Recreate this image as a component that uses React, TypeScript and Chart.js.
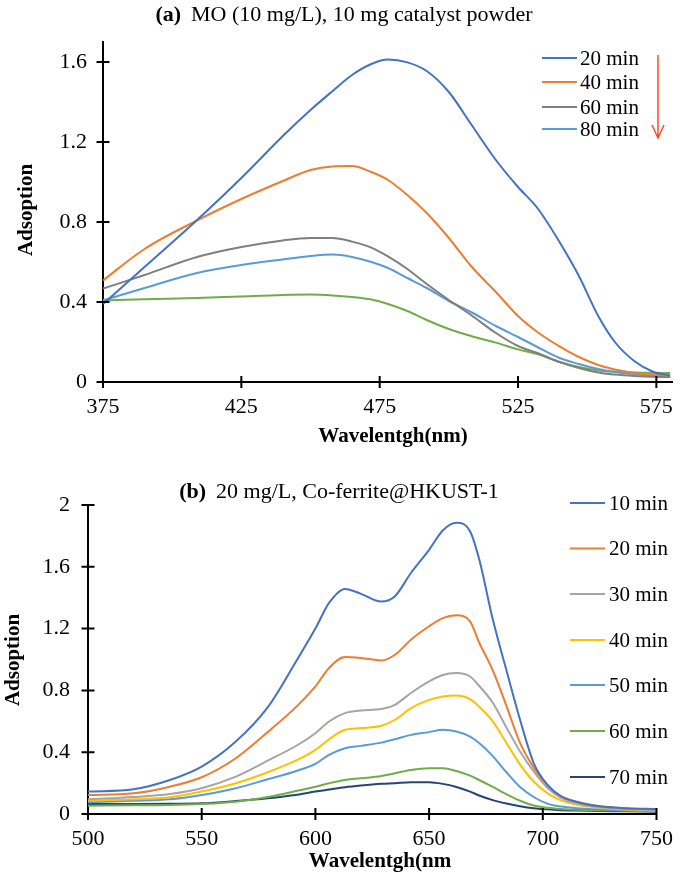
import React, { useEffect, useRef } from "react";
import { Chart, registerables } from "chart.js";

Chart.register(...registerables);

const FONT = '"Liberation Serif", "Times New Roman", serif';

// ---------- Panel (a) data ----------
const wavelengthsA = [375, 390, 409, 425, 440, 450, 458, 465, 472, 478, 485, 492, 500, 508, 517, 525, 532, 540, 547, 554, 560, 567, 574, 580];
const a20min = [0.39, 0.575, 0.81, 1.02, 1.23, 1.36, 1.455, 1.535, 1.59, 1.612, 1.598, 1.555, 1.45, 1.29, 1.11, 0.975, 0.87, 0.7, 0.53, 0.33, 0.2, 0.105, 0.05, 0.032];
const a40min = [0.508, 0.665, 0.808, 0.915, 1.005, 1.06, 1.078, 1.08, 1.05, 1.01, 0.935, 0.845, 0.72, 0.58, 0.45, 0.33, 0.25, 0.178, 0.125, 0.085, 0.062, 0.045, 0.036, 0.032];
const a60min = [0.467, 0.535, 0.625, 0.675, 0.708, 0.72, 0.72, 0.702, 0.672, 0.628, 0.565, 0.49, 0.41, 0.335, 0.245, 0.18, 0.145, 0.1, 0.07, 0.047, 0.037, 0.03, 0.026, 0.025];
const a80min = [0.408, 0.47, 0.545, 0.585, 0.613, 0.63, 0.637, 0.625, 0.6, 0.57, 0.52, 0.47, 0.405, 0.35, 0.28, 0.225, 0.175, 0.12, 0.09, 0.065, 0.05, 0.04, 0.03, 0.025];
const aExtra = [0.408, 0.414, 0.42, 0.428, 0.435, 0.437, 0.433, 0.425, 0.412, 0.39, 0.355, 0.31, 0.265, 0.23, 0.197, 0.163, 0.14, 0.1, 0.075, 0.058, 0.052, 0.048, 0.046, 0.045];
const seriesA = [a20min, a40min, a60min, a80min, aExtra];
const labelsA = ["20 min", "40 min", "60 min", "80 min", ""];
const colorsA = ["#4472C4", "#ED7D31", "#7F7F7F", "#5B9BD5", "#70AD47"];
const xTicksA = [375, 425, 475, 525, 575];
const yTicksA = [0, 0.4, 0.8, 1.2, 1.6];

// ---------- Panel (b) data ----------
const wavelengthsB = [500, 520, 536, 550, 565, 579, 592, 600, 606, 613, 620, 629, 635, 642, 650, 656, 662, 668, 672, 678, 684, 690, 696, 702, 708, 715, 725, 737, 750];
const b10min = [0.145, 0.16, 0.22, 0.307, 0.469, 0.69, 1.0, 1.2, 1.366, 1.457, 1.425, 1.375, 1.41, 1.56, 1.71, 1.835, 1.885, 1.83, 1.65, 1.26, 0.93, 0.61, 0.33, 0.19, 0.115, 0.078, 0.05, 0.038, 0.032];
const b20min = [0.123, 0.134, 0.177, 0.238, 0.361, 0.53, 0.7, 0.826, 0.945, 1.016, 1.01, 0.994, 1.031, 1.128, 1.215, 1.268, 1.286, 1.247, 1.11, 0.93, 0.7, 0.46, 0.3, 0.185, 0.115, 0.08, 0.05, 0.036, 0.03];
const b30min = [0.095, 0.11, 0.13, 0.167, 0.242, 0.345, 0.445, 0.523, 0.599, 0.653, 0.67, 0.679, 0.707, 0.783, 0.858, 0.9, 0.912, 0.89, 0.83, 0.72, 0.56, 0.405, 0.275, 0.17, 0.105, 0.07, 0.045, 0.032, 0.026];
const b40min = [0.086, 0.095, 0.108, 0.145, 0.199, 0.27, 0.35, 0.415, 0.484, 0.545, 0.556, 0.571, 0.61, 0.685, 0.739, 0.761, 0.767, 0.744, 0.695, 0.6, 0.46, 0.32, 0.21, 0.135, 0.088, 0.06, 0.04, 0.028, 0.022];
const b50min = [0.076, 0.085, 0.095, 0.123, 0.167, 0.225, 0.28, 0.325, 0.383, 0.426, 0.441, 0.462, 0.484, 0.512, 0.53, 0.545, 0.534, 0.501, 0.46, 0.375, 0.27, 0.175, 0.11, 0.067, 0.048, 0.038, 0.03, 0.024, 0.02];
const b60min = [0.054, 0.056, 0.058, 0.065, 0.08, 0.11, 0.15, 0.177, 0.199, 0.22, 0.231, 0.246, 0.264, 0.285, 0.296, 0.296, 0.278, 0.248, 0.22, 0.175, 0.128, 0.086, 0.055, 0.04, 0.032, 0.027, 0.024, 0.022, 0.02];
const b70min = [0.065, 0.065, 0.066, 0.069, 0.084, 0.102, 0.125, 0.145, 0.158, 0.173, 0.184, 0.195, 0.199, 0.205, 0.205, 0.195, 0.175, 0.145, 0.12, 0.09, 0.068, 0.05, 0.037, 0.03, 0.025, 0.022, 0.02, 0.017, 0.015];
const seriesB = [b10min, b20min, b30min, b40min, b50min, b60min, b70min];
const labelsB = ["10 min", "20 min", "30 min", "40 min", "50 min", "60 min", "70 min"];
const colorsB = ["#4472C4", "#ED7D31", "#A5A5A5", "#FFC000", "#5B9BD5", "#70AD47", "#264478"];
const xTicksB = [500, 550, 600, 650, 700, 750];
const yTicksB = [0, 0.4, 0.8, 1.2, 1.6, 2];

type Decor = {
  titleBold: string;
  titleText: string;
  titleCx: number;
  titleCy: number;
  xTitle: string;
  xTitleCx: number;
  xTitleCy: number;
  yTitle: string;
  yTitleCx: number;
  yTitleCy: number;
  legX1: number;
  legX2: number;
  legTx: number;
  legRows: number[];
  arrow?: { x: number; y1: number; y2: number; color: string };
};

function makeDecor(d: Decor) {
  return {
    id: "decor",
    afterDraw(chart: any) {
      const ctx = chart.ctx as CanvasRenderingContext2D;
      const { left, bottom } = chart.chartArea;
      const xs = chart.scales.x;
      const ys = chart.scales.y;
      ctx.save();
      // crossing tick marks
      ctx.strokeStyle = "#000";
      ctx.lineWidth = 2;
      ctx.beginPath();
      xs.ticks.forEach((t: any) => {
        const px = xs.getPixelForValue(t.value);
        ctx.moveTo(px, bottom - 6);
        ctx.lineTo(px, bottom + 6);
      });
      ys.ticks.forEach((t: any) => {
        const py = ys.getPixelForValue(t.value);
        ctx.moveTo(left - 6.5, py);
        ctx.lineTo(left + 6.5, py);
      });
      ctx.stroke();

      // title
      ctx.fillStyle = "#000";
      ctx.textBaseline = "middle";
      ctx.textAlign = "left";
      ctx.font = `bold 22px ${FONT}`;
      const wb = ctx.measureText(d.titleBold).width;
      ctx.font = `22px ${FONT}`;
      const gap = 10;
      const wt = ctx.measureText(d.titleText).width;
      const startX = d.titleCx - (wb + gap + wt) / 2;
      ctx.font = `bold 22px ${FONT}`;
      ctx.fillText(d.titleBold, startX, d.titleCy);
      ctx.font = `22px ${FONT}`;
      ctx.fillText(d.titleText, startX + wb + gap, d.titleCy);

      // axis titles
      ctx.font = `bold 21px ${FONT}`;
      ctx.textAlign = "center";
      ctx.fillText(d.xTitle, d.xTitleCx, d.xTitleCy);
      ctx.save();
      ctx.translate(d.yTitleCx, d.yTitleCy);
      ctx.rotate(-Math.PI / 2);
      ctx.fillText(d.yTitle, 0, 0);
      ctx.restore();

      // legend
      ctx.font = `21px ${FONT}`;
      ctx.textAlign = "left";
      let row = 0;
      chart.data.datasets.forEach((ds: any) => {
        if (!ds.label) return;
        const y = d.legRows[row++];
        ctx.strokeStyle = ds.borderColor;
        ctx.lineWidth = 2;
        ctx.beginPath();
        ctx.moveTo(d.legX1, y);
        ctx.lineTo(d.legX2, y);
        ctx.stroke();
        ctx.fillStyle = "#000";
        ctx.fillText(ds.label, d.legTx, y + 1);
      });

      if (d.arrow) {
        const a = d.arrow;
        ctx.strokeStyle = a.color;
        ctx.lineWidth = 1.5;
        ctx.beginPath();
        ctx.moveTo(a.x, a.y1);
        ctx.lineTo(a.x, a.y2);
        ctx.moveTo(a.x - 6, a.y2 - 13);
        ctx.lineTo(a.x, a.y2);
        ctx.lineTo(a.x + 6, a.y2 - 13);
        ctx.stroke();
      }
      ctx.restore();
    },
  };
}

type PanelProps = {
  width: number;
  height: number;
  wavelengths: number[];
  series: number[][];
  labels: string[];
  colors: string[];
  xMin: number;
  xMax: number;
  yMax: number;
  xTicks: number[];
  yTicks: number[];
  padTop: number;
  padRight: number;
  yWidth: number;
  xHeight: number;
  yPad: number;
  decor: Decor;
};

function Panel(p: PanelProps) {
  const ref = useRef<HTMLCanvasElement | null>(null);
  useEffect(() => {
    if (!ref.current) return;
    const datasets = p.series.map((s, i) => ({
      label: p.labels[i],
      data: p.wavelengths.map((w, j) => ({ x: w, y: s[j] })),
      borderColor: p.colors[i],
      backgroundColor: p.colors[i],
      borderWidth: 2,
      pointRadius: 0,
      cubicInterpolationMode: "monotone" as const,
      fill: false,
    }));
    const tickFont = { family: FONT, size: 22 };
    const chart = new Chart(ref.current, {
      type: "line",
      data: { datasets },
      options: {
        animation: false,
        responsive: false,
        layout: { padding: { top: p.padTop, right: p.padRight, left: 0, bottom: 0 } },
        plugins: {
          legend: { display: false },
          tooltip: { enabled: false },
          title: { display: false },
        },
        scales: {
          x: {
            type: "linear",
            min: p.xMin,
            max: p.xMax,
            afterBuildTicks: (s: any) => {
              s.ticks = p.xTicks.map((v) => ({ value: v }));
            },
            afterFit: (s: any) => {
              s.height = p.xHeight;
            },
            grid: { display: false, drawTicks: false },
            border: { display: true, color: "#000", width: 2 },
            ticks: {
              font: tickFont,
              color: "#000",
              padding: 12,
              maxRotation: 0,
              autoSkip: false,
              callback: (v: any) => String(Number(v)),
            },
          },
          y: {
            type: "linear",
            min: 0,
            max: p.yMax,
            afterBuildTicks: (s: any) => {
              s.ticks = p.yTicks.map((v) => ({ value: v }));
            },
            afterFit: (s: any) => {
              s.width = p.yWidth;
            },
            grid: { display: false, drawTicks: false },
            border: { display: true, color: "#000", width: 2 },
            ticks: {
              font: tickFont,
              color: "#000",
              padding: p.yPad,
              autoSkip: false,
              callback: (v: any) => String(Number(v)),
            },
          },
        },
      },
      plugins: [makeDecor(p.decor)],
    });
    return () => chart.destroy();
  }, []);
  return <canvas ref={ref} width={p.width} height={p.height} style={{ display: "block" }} />;
}

export default function App() {
  return (
    <div style={{ position: "fixed", left: 0, top: 0, width: 685, height: 877, background: "#fff" }}>
      <Panel
        width={685}
        height={450}
        wavelengths={wavelengthsA}
        series={seriesA}
        labels={labelsA}
        colors={colorsA}
        xMin={375}
        xMax={581}
        yMax={1.7}
        xTicks={xTicksA}
        yTicks={yTicksA}
        padTop={42}
        padRight={5}
        yWidth={103}
        xHeight={68}
        yPad={16}
        decor={{
          titleBold: "(a)",
          titleText: "MO (10 mg/L), 10 mg catalyst powder",
          titleCx: 344,
          titleCy: 15,
          xTitle: "Wavelentgh(nm)",
          xTitleCx: 393,
          xTitleCy: 437,
          yTitle: "Adsoption",
          yTitleCx: 27,
          yTitleCy: 210,
          legX1: 542,
          legX2: 577,
          legTx: 580,
          legRows: [58, 82, 107, 129],
          arrow: { x: 658, y1: 55, y2: 138, color: "#F0502E" },
        }}
      />
      <Panel
        width={685}
        height={427}
        wavelengths={wavelengthsB}
        series={seriesB}
        labels={labelsB}
        colors={colorsB}
        xMin={500}
        xMax={750}
        yMax={2}
        xTicks={xTicksB}
        yTicks={yTicksB}
        padTop={55}
        padRight={19}
        yWidth={88}
        xHeight={63}
        yPad={18}
        decor={{
          titleBold: "(b)",
          titleText: "20 mg/L, Co-ferrite@HKUST-1",
          titleCx: 339,
          titleCy: 42,
          xTitle: "Wavelentgh(nm",
          xTitleCx: 380,
          xTitleCy: 412,
          yTitle: "Adsoption",
          yTitleCx: 14,
          yTitleCy: 210,
          legX1: 570,
          legX2: 605,
          legTx: 609,
          legRows: [53, 98.5, 144, 190, 235, 281, 327],
        }}
      />
    </div>
  );
}
